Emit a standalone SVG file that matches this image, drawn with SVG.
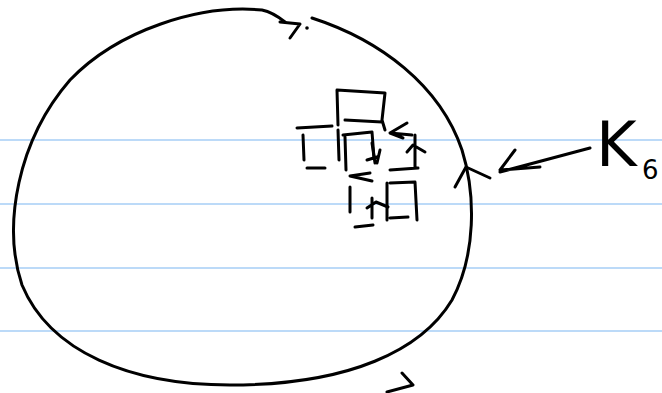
<svg xmlns="http://www.w3.org/2000/svg" width="662" height="393" viewBox="0 0 662 393">
<style>
.rule{stroke:#a6cef6;stroke-width:1.5}
.ink{fill:none;stroke:#000;stroke-width:3;stroke-linecap:round;stroke-linejoin:round}
.lbl{font-family:"DejaVu Sans","Liberation Sans",sans-serif;fill:#000}
</style>
<rect width="662" height="393" fill="#fff"/>
<g id="ruling">
<line class="rule" x1="0" y1="140" x2="662" y2="140"/>
<line class="rule" x1="0" y1="204" x2="662" y2="204"/>
<line class="rule" x1="0" y1="268" x2="662" y2="268"/>
<line class="rule" x1="0" y1="331" x2="662" y2="331"/>
</g>
<g id="loop">
<path class="ink" d="M312 18 C380 40 440 85 462 150 C476 195 476 255 452 300 C422 350 350 385 230 385 C130 385 50 352 22 285 C2 225 18 140 70 80 C118 30 200 4 262 10 C272 12 280 18 285 22"/>
<path class="ink" d="M280 22 L300 24 L290 38"/>
<circle cx="307" cy="28" r="1.8" fill="#000"/>
<path class="ink" d="M455 187 L466 167 L490 178"/>
<path class="ink" d="M402 373 L413 385 L387 392"/>
</g>
<g id="k6">
<path class="ink" d="M590 148 L500 172 M515 150 L500 170 L540 167"/>
<text class="lbl" x="596" y="166" font-size="62">K</text>
<text class="lbl" x="642" y="179" font-size="26">6</text>
</g>
<g id="cells">
<path class="ink" d="M337 90 L338 125 M337 90 L385 93 L382 120 L385 130 M345 120 L382 122"/>
<path class="ink" d="M407 123 L390 133 L403 138 M390 133 L412 135"/>
<path class="ink" d="M297 128 L332 126 M303 135 L304 160 M307 168 L325 168 M338 130 L339 160"/>
<path class="ink" d="M343 135 L372 132 L374 158 M345 137 L346 170"/>
<path class="ink" d="M372 143 L375 163 M367 160 L377 157 M380 150 L377 163"/>
<path class="ink" d="M415 135 L415 168 M407 152 L413 145 L425 152 M390 170 L418 168"/>
<path class="ink" d="M370 173 L350 176 L372 181"/>
<path class="ink" d="M350 187 L350 212 M355 227 L373 225"/>
<path class="ink" d="M390 183 L415 182 L417 220 M387 183 L387 220 M390 218 L408 217"/>
<path class="ink" d="M372 198 L372 218 M367 208 L376 202 L388 207"/>
</g>
</svg>
